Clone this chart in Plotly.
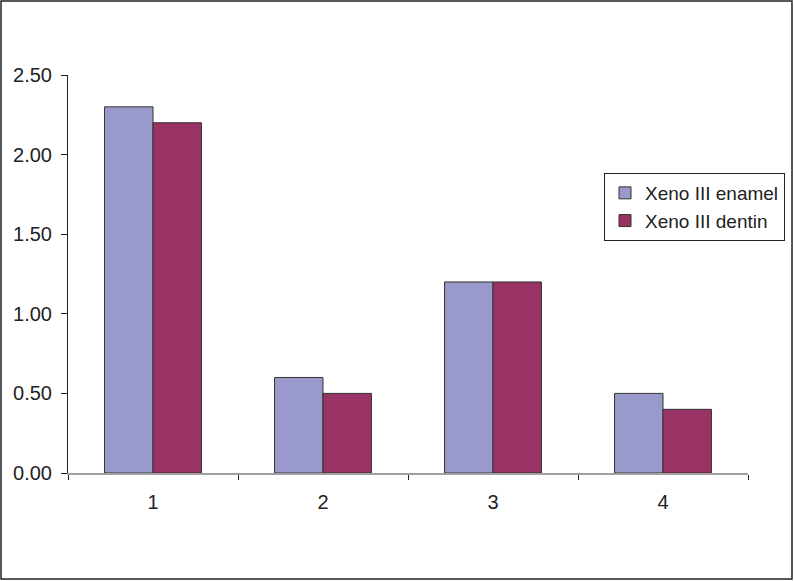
import plotly.graph_objects as go

categories = ["1", "2", "3", "4"]
enamel = [2.30, 0.60, 1.20, 0.50]
dentin = [2.20, 0.50, 1.20, 0.40]
y_ticks = [0, 0.5, 1.0, 1.5, 2.0, 2.5]

fig = go.Figure()
fig.add_trace(go.Bar(x=categories, y=enamel, name="Xeno III enamel",
                     marker=dict(color="#9999CC", line=dict(color="#333333", width=1))))
fig.add_trace(go.Bar(x=categories, y=dentin, name="Xeno III dentin",
                     marker=dict(color="#993366", line=dict(color="#333333", width=1))))

fig.update_layout(
    width=794, height=581,
    margin=dict(l=68, r=46, t=75, b=108, autoexpand=False),
    paper_bgcolor="white", plot_bgcolor="white",
    barmode="group", bargap=0.43, bargroupgap=0,
    font=dict(family="Liberation Sans, Arial", size=20, color="#222222"),
    showlegend=True,
    legend=dict(xref="container", yref="container", x=604 / 794, y=1 - 173 / 581,
                xanchor="left", yanchor="top",
                bordercolor="#222222", borderwidth=1, bgcolor="white",
                font=dict(size=19), tracegroupgap=0),
    xaxis=dict(showline=True, linecolor="#A0A0A0", linewidth=1.5,
               ticks="outside", tickson="boundaries", ticklen=5, tickcolor="#222222",
               showgrid=False, zeroline=False, ticklabelstandoff=10),
    yaxis=dict(range=[0, 2.5], tickvals=y_ticks, tickformat=".2f",
               showline=True, linecolor="#222222", linewidth=1,
               ticks="outside", ticklen=6, tickcolor="#222222",
               showgrid=False, zeroline=False, ticklabelstandoff=5),
)

fig.add_shape(type="rect", xref="paper", yref="paper",
              x0=-0.0985, x1=1.0647, y0=-0.2663, y1=1.1859,
              line=dict(color="#222222", width=1.5), fillcolor="rgba(0,0,0,0)")

fig.write_html("out.html", config={"displayModeBar": False},
               post_script="document.body.style.margin='0';document.body.style.padding='0';")
